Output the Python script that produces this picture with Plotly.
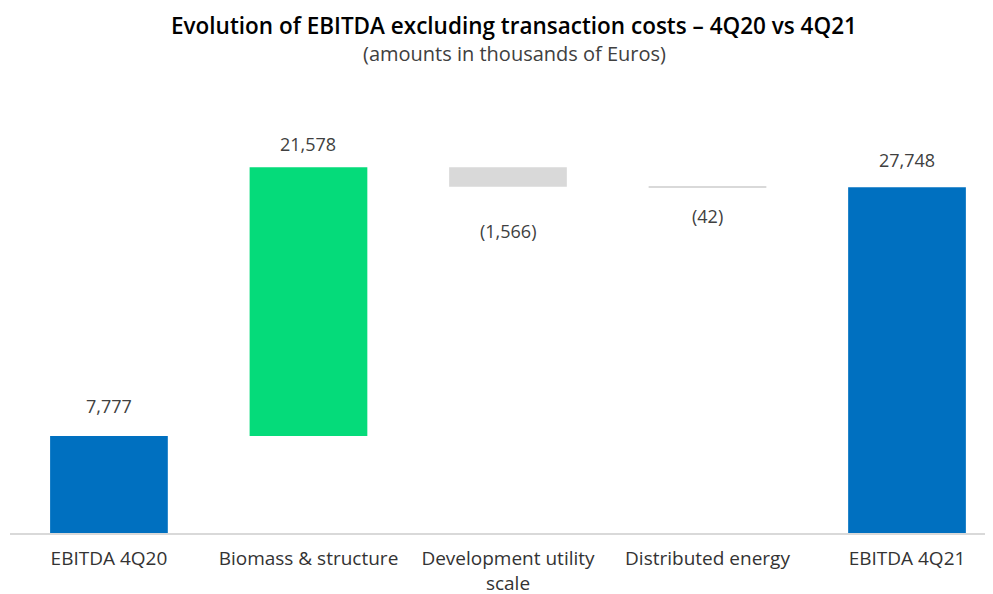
import plotly.graph_objects as go

categories = ["EBITDA 4Q20", "Biomass & structure", "Development utility<br>scale", "Distributed energy", "EBITDA 4Q21"]
values = [7777, 21578, -1566, -42, 27748]
measures = ["absolute", "relative", "relative", "relative", "total"]
labels = ["7,777", "21,578", "(1,566)", "(42)", "27,748"]

FONT = "Open Sans"

fig = go.Figure(go.Waterfall(
    x=categories,
    y=values,
    measure=measures,
    increasing=dict(marker=dict(color="#05DB7A")),
    decreasing=dict(marker=dict(color="#D9D9D9")),
    totals=dict(marker=dict(color="#0070C0")),
    connector=dict(visible=False),
    width=0.59,
    hoverinfo="skip",
))

# data labels: placed at the end of each bar (computed from the data)
running = 0
label_shift = [30, 23, -44, -29, 27]
for cat, val, m, lab, sh in zip(categories, values, measures, labels, label_shift):
    if m == "absolute" or m == "total":
        end = val
        running = val
    else:
        running += val
        end = running
    fig.add_annotation(
        x=cat, y=end, text=lab, showarrow=False,
        xref="x", yref="y", yshift=sh, yanchor="middle",
        font=dict(family=FONT, size=18, color="#404040"),
    )

fig.add_annotation(
    text="Evolution of EBITDA excluding transaction costs – 4Q20 vs 4Q21",
    xref="paper", yref="paper", x=0.513, y=1.163, xanchor="center", yanchor="middle",
    showarrow=False, font=dict(family=FONT, size=22.5, color="#000000", weight=600),
)
fig.add_annotation(
    text="(amounts in thousands of Euros)",
    xref="paper", yref="paper", x=0.513, y=1.099, xanchor="center", yanchor="middle",
    showarrow=False, font=dict(family=FONT, size=20, color="#404040"),
)

fig.update_layout(
    width=985, height=586,
    paper_bgcolor="white", plot_bgcolor="white",
    margin=dict(l=2, r=0, t=89, b=61, autoexpand=False),
    showlegend=False,
    xaxis=dict(
        range=[-0.496, 4.431],
        automargin=False,
        showline=True, linecolor="#D9D9D9", linewidth=2,
        showgrid=False, ticks="",
        ticklabelstandoff=7,
        tickfont=dict(family=FONT, size=19, color="#333333"),
    ),
    yaxis=dict(range=[0, 35000], visible=False, showgrid=False, automargin=False),
)

fig.write_html("out.html")
